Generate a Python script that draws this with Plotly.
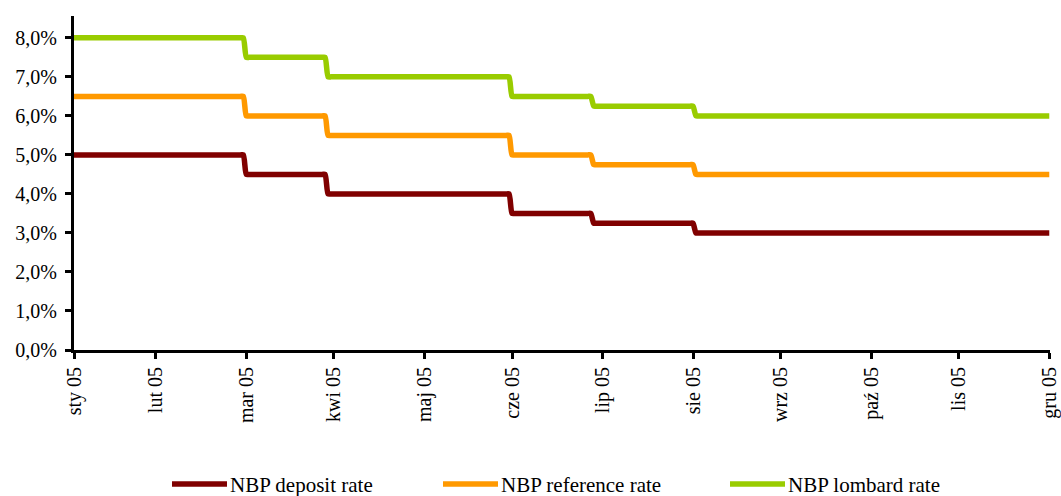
import pandas as pd
import plotly.graph_objects as go

# NBP policy rates in 2005: dates on which a new rate took effect
change_dates = ["2005-01-31", "2005-03-31", "2005-04-28", "2005-06-30", "2005-07-28", "2005-09-01"]
deposit_rate = [5.0, 4.5, 4.0, 3.5, 3.25, 3.0]
reference_rate = [6.5, 6.0, 5.5, 5.0, 4.75, 4.5]
lombard_rate = [8.0, 7.5, 7.0, 6.5, 6.25, 6.0]

series_names = ["NBP deposit rate", "NBP reference rate", "NBP lombard rate"]
series_colors = ["#800000", "#FF9900", "#99CC00"]

# month-end ticks and their labels
tick_dates = ["2005-01-31", "2005-02-28", "2005-03-31", "2005-04-30", "2005-05-31", "2005-06-30",
              "2005-07-31", "2005-08-31", "2005-09-30", "2005-10-31", "2005-11-30", "2005-12-31"]
tick_labels = ["sty 05", "lut 05", "mar 05", "kwi 05", "maj 05", "cze 05",
               "lip 05", "sie 05", "wrz 05", "paź 05", "lis 05", "gru 05"]
y_ticks = [0, 1, 2, 3, 4, 5, 6, 7, 8]
y_labels = [f"{v:.1f}%".replace(".", ",") for v in y_ticks]

# rate in force on each calendar day
days = pd.date_range("2005-01-31", "2005-12-31", freq="D")


def daily(values):
    s = pd.Series(values, index=pd.to_datetime(change_dates))
    return s.reindex(days, method="ffill")


W, H = 1061, 496
L, R, T, B = 74, 11, 16, 146
PW, PH = W - L - R, H - T - B


def px_x(x):
    return (x - L) / PW


def px_y(y):
    return (H - B - y) / PH


FONT = "serif"

fig = go.Figure()
for name, color, vals in zip(series_names, series_colors, [deposit_rate, reference_rate, lombard_rate]):
    s = daily(vals)
    fig.add_trace(go.Scatter(
        x=s.index, y=s.values, mode="lines", name=name,
        line=dict(color=color, width=5.5, shape="spline", smoothing=0.6),
        showlegend=False,
    ))

# legend drawn below the axis: sample line followed by its label
legend_x = [172, 443, 730]
sample_len = 55
legend_y = 484
for name, color, lx in zip(series_names, series_colors, legend_x):
    fig.add_shape(type="line", xref="paper", yref="paper",
                  x0=px_x(lx), x1=px_x(lx + sample_len), y0=px_y(legend_y), y1=px_y(legend_y),
                  line=dict(color=color, width=5.5))
    fig.add_annotation(xref="paper", yref="paper", x=px_x(lx + sample_len + 1), y=px_y(legend_y + 1),
                       xanchor="left", yanchor="middle", text=name, showarrow=False,
                       font=dict(family=FONT, size=21, color="black"))

fig.update_layout(
    width=W, height=H,
    margin=dict(l=L, r=R, t=T, b=B, autoexpand=False),
    paper_bgcolor="white", plot_bgcolor="white",
    font=dict(family=FONT, size=20, color="black"),
    xaxis=dict(
        type="date",
        range=["2005-01-31", "2005-12-31 06:00"],
        tickmode="array", tickvals=tick_dates, ticktext=tick_labels,
        tickangle=-90, automargin=False,
        ticks="outside", ticklen=6, tickwidth=3, tickcolor="black",
        showline=True, linecolor="black", linewidth=3,
        showgrid=False, zeroline=False,
        tickfont=dict(family=FONT, size=20, color="black"),
    ),
    yaxis=dict(
        range=[0, 8.56], automargin=False,
        tickmode="array", tickvals=y_ticks, ticktext=y_labels,
        ticks="outside", ticklen=6, tickwidth=3, tickcolor="black",
        ticklabelstandoff=4,
        showline=True, linecolor="black", linewidth=3,
        showgrid=False, zeroline=False,
        tickfont=dict(family=FONT, size=20, color="black"),
    ),
)

fig.write_html("out.html")
